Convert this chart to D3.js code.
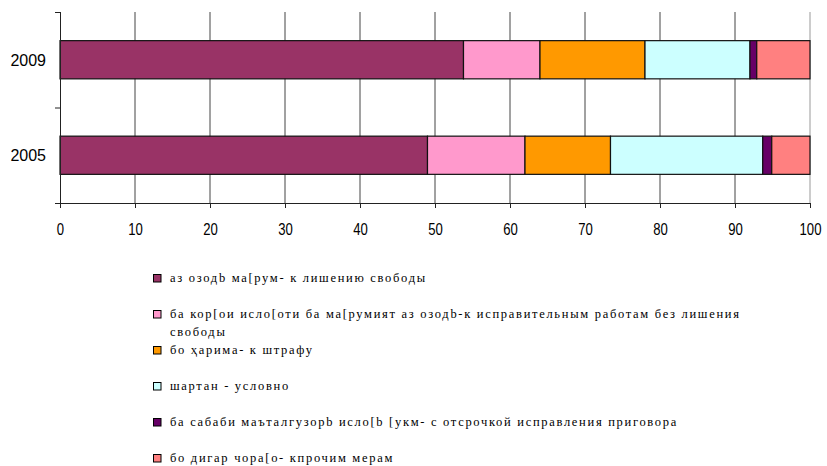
<!DOCTYPE html>
<html>
<head>
<meta charset="utf-8">
<title>Sentences 2005 / 2009</title>
</head>
<body style="margin:0;background:#fff">
<svg width="827" height="466"></svg>
<script src="https://d3js.org/d3.v7.min.js"></script>
<script>

// years (top to bottom as drawn)
var years = ["2009", "2005"];

// series names (legend order = stack order), wrapped lines
var seriesNames = [
  ["аз озодb ма[рум- к лишению свободы"],
  ["ба кор[ои исло[оти ба ма[румият аз озодb-к исправительным работам без лишения", "свободы"],
  ["бо ҳарима- к штрафу"],
  ["шартан - условно"],
  ["ба сабаби маъталгузорb исло[b [укм- с отсрочкой исправления приговора"],
  ["бо дигар чора[о- кпрочим мерам"]
];

// percentages per series, [2009, 2005]
var prison    = [53.8, 49.0];
var corrWork  = [10.2, 13.0];
var fine      = [14.0, 11.4];
var suspended = [14.0, 20.3];
var deferred  = [0.9, 1.2];
var other     = [7.1, 5.1];

var seriesValues = [prison, corrWork, fine, suspended, deferred, other];
var colors = ["#993366", "#ff99cc", "#ff9900", "#ccffff", "#660066", "#ff8080"];
var xTicks = [0, 10, 20, 30, 40, 50, 60, 70, 80, 90, 100];

var sans = "'Liberation Sans', Arial, sans-serif";
var serif = "'Liberation Serif', 'Times New Roman', serif";

var svg = d3.select("svg");

var x = d3.scaleLinear().domain([0, 100]).range([60, 810]);
var y = d3.scaleBand().domain(years).range([12, 203])
    .paddingInner(0.6).paddingOuter(0.3);

// build table for d3.stack
var table = years.map(function(yr, i) {
  var row = { year: yr };
  seriesValues.forEach(function(s, j) { row["s" + j] = s[i]; });
  return row;
});
var keys = seriesValues.map(function(s, j) { return "s" + j; });
var stacked = d3.stack().keys(keys)(table);

// vertical gridlines
svg.append("g")
  .selectAll("line")
  .data(xTicks.slice(1))
  .enter().append("line")
    .attr("x1", function(d) { return x(d); })
    .attr("x2", function(d) { return x(d); })
    .attr("y1", 12)
    .attr("y2", 203)
    .attr("stroke", function(d) { return d === 100 ? "#999" : "#444"; })
    .attr("stroke-width", 1);

// bars
svg.append("g")
  .selectAll("g")
  .data(stacked)
  .enter().append("g")
    .attr("fill", function(d, i) { return colors[i]; })
  .selectAll("rect")
  .data(function(d) { return d; })
  .enter().append("rect")
    .attr("x", function(d) { return x(d[0]); })
    .attr("width", function(d) { return x(d[1]) - x(d[0]); })
    .attr("y", function(d) { return y(d.data.year); })
    .attr("height", y.bandwidth())
    .attr("stroke", "#111")
    .attr("stroke-width", 1.2);

// x axis
var xAx = svg.append("g")
  .attr("transform", "translate(0,203)")
  .call(d3.axisBottom(x).tickValues(xTicks).tickSize(5).tickSizeOuter(0));
xAx.attr("font-family", null);
xAx.select(".domain").attr("stroke", "#222").attr("d", "M55,0.5H" + x(100));
xAx.selectAll(".tick line").attr("stroke", "#222");
xAx.selectAll(".tick text")
  .style("font-family", sans)
  .style("font-size", "16px")
  .attr("y", 0)
  .attr("dy", 0)
  .attr("transform", "translate(0,32) scale(0.82,1)");

// y axis: line + ticks at category boundaries
var yAx = svg.append("g");
yAx.append("line")
  .attr("x1", 60.5).attr("x2", 60.5).attr("y1", 12).attr("y2", 203)
  .attr("stroke", "#222");
var bounds = [12, (y("2009") + y.bandwidth() + y("2005")) / 2, 203];
yAx.selectAll(".yt")
  .data(bounds)
  .enter().append("line")
    .attr("class", "yt")
    .attr("x1", 55).attr("x2", 60)
    .attr("y1", function(d) { return d + 0.5; })
    .attr("y2", function(d) { return d + 0.5; })
    .attr("stroke", "#222");
yAx.selectAll("text")
  .data(years)
  .enter().append("text")
    .attr("x", 46)
    .attr("y", function(d) { return y(d) + y.bandwidth() / 2; })
    .attr("dy", "0.37em")
    .attr("text-anchor", "end")
    .style("font-family", sans)
    .style("font-size", "16px")
    .text(function(d) { return d; });

// legend
var legend = svg.append("g");
var items = legend.selectAll("g")
  .data(seriesNames)
  .enter().append("g")
    .attr("transform", function(d, i) { return "translate(153," + (274 + i * 36) + ")"; });
items.append("rect")
  .attr("x", 0.5).attr("y", 0.5)
  .attr("width", 7.5).attr("height", 7.5)
  .attr("fill", function(d, i) { return colors[i]; })
  .attr("stroke", "#000")
  .attr("stroke-width", 1);
items.append("text")
  .attr("y", 5)
  .style("font-family", serif)
  .style("font-size", "12.5px")
  .style("letter-spacing", "1.7px")
  .selectAll("tspan")
  .data(function(d) { return d; })
  .enter().append("tspan")
    .attr("x", 17)
    .attr("dy", function(d, i) { return i === 0 ? 2.5 : 18; })
    .text(function(d) { return d; });

</script>
</body>
</html>
